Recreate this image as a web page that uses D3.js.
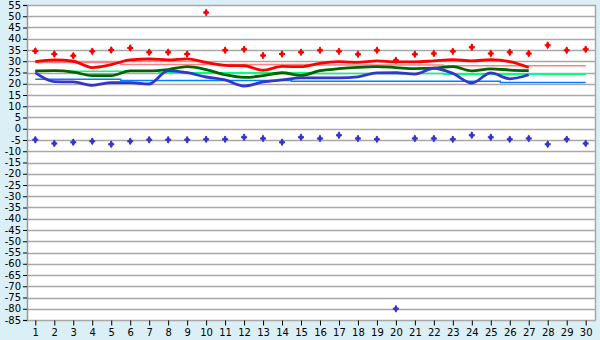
<!DOCTYPE html>
<html>
<head>
<meta charset="utf-8">
<script src="https://cdn.jsdelivr.net/npm/d3@7"></script>
<style>
  body { margin: 0; background: #daeff6; }
  svg { display: block; }
  text { font-family: "DejaVu Sans", Verdana, sans-serif; font-size: 10px; fill: #000; }
</style>
</head>
<body>
<svg width="600" height="340"></svg>
<script>
const days = d3.range(1, 31);
const yTicks = d3.range(-85, 56, 5);

// daily max / avg / min (days 1-27)
const maxTemp = [29.8, 30.6, 30.0, 27.2, 28.5, 30.6, 31.0, 30.6, 31.1, 29.5,
    28.2, 28.0, 26.0, 27.7, 27.6, 29.1, 29.8, 29.5, 30.2, 29.7,
    29.7, 30.2, 30.7, 30.2, 30.7, 29.8, 27.2];
const avgTemp = [25.7, 25.8, 25.2, 23.6, 23.6, 25.7, 25.7, 26.3, 27.6, 26.3,
    24.0, 22.8, 23.6, 24.9, 23.7, 25.8, 26.7, 27.3, 27.6, 27.2,
    26.7, 26.9, 27.6, 25.7, 26.6, 26.1, 25.8];
const minTemp = [24.9, 20.9, 20.8, 19.3, 20.5, 20.5, 19.9, 25.8, 24.9, 23.0,
    21.7, 19.0, 20.8, 21.7, 22.6, 22.6, 22.6, 23.1, 24.8, 24.9,
    24.3, 26.9, 24.6, 20.3, 24.8, 22.2, 24.0];

// normals (days 1-30)
const normHigh = [29.4, 29.4, 29.4, 29.4, 29.4, 28.6, 28.6, 28.6, 28.6, 28.6,
    28.6, 28.6, 28.6, 28.6, 28.6, 28.3, 28.3, 28.3, 28.3, 28.3,
    28.3, 28.3, 28.0, 28.0, 28.0, 28.0, 28.0, 28.0, 28.0, 28.0];
const normAvg = [25.6, 25.6, 25.6, 25.6, 25.6, 25.6, 25.6, 24.9, 24.9, 24.9,
    24.9, 24.9, 24.9, 24.9, 24.9, 24.6, 24.6, 24.6, 24.6, 24.6,
    24.6, 24.6, 24.2, 24.2, 24.2, 24.2, 24.2, 24.2, 24.2, 24.2];
const normLow = [22.0, 22.0, 22.0, 22.0, 22.0, 21.5, 21.5, 21.5, 21.5, 21.5,
    21.5, 21.5, 21.5, 21.5, 21.1, 21.1, 21.1, 21.1, 21.1, 21.1,
    21.1, 21.1, 21.1, 21.1, 21.1, 20.6, 20.6, 20.6, 20.6, 20.6];

// record highs / lows (days 1-30)
const recHigh = [34.6, 33.2, 32.5, 34.4, 35.0, 35.9, 34.0, 34.0, 33.2, 51.7,
    34.9, 35.3, 32.6, 33.2, 34.0, 34.9, 34.4, 33.1, 34.9, 30.4,
    33.1, 33.5, 34.4, 36.2, 33.5, 34.0, 33.5, 37.1, 34.9, 35.3];
const recLow = [-4.9, -6.5, -6.0, -5.6, -6.9, -5.6, -4.9, -4.9, -4.9, -4.7,
    -4.7, -3.8, -4.3, -6.0, -3.8, -4.3, -2.9, -4.3, -4.7, -80,
    -4.3, -4.3, -4.7, -2.9, -3.8, -4.7, -4.3, -6.9, -4.7, -6.5];

const svg = d3.select("svg");
const plot = { left: 27, right: 596, top: 5, bottom: 320 };

const x = d3.scaleLinear().domain([1, 30]).range([35.3, 585.7]);
const y = d3.scaleLinear().domain([-85, 55]).range([plot.bottom, plot.top]);

svg.append("rect")
    .attr("x", plot.left)
    .attr("y", plot.top)
    .attr("width", plot.right - plot.left)
    .attr("height", plot.bottom - plot.top)
    .attr("fill", "#fff");

// grid
svg.append("g")
    .selectAll("line")
    .data(yTicks)
    .enter().append("line")
    .attr("x1", plot.left)
    .attr("x2", plot.right)
    .attr("y1", d => Math.round(y(d)) + 0.5)
    .attr("y2", d => Math.round(y(d)) + 0.5)
    .attr("stroke", "#a8a8a8")
    .attr("stroke-width", 1.4);

svg.append("line")
    .attr("x1", plot.right - 0.5).attr("x2", plot.right - 0.5)
    .attr("y1", plot.top).attr("y2", plot.bottom)
    .attr("stroke", "#a8a8a8")
    .attr("stroke-width", 1.5);

// axes
const yAxis = svg.append("g")
    .attr("transform", `translate(${plot.left},0)`)
    .call(d3.axisLeft(y).tickValues(yTicks).tickSize(4).tickPadding(2)
        .tickFormat(d => String(d)));
yAxis.select(".domain").attr("stroke", "#999").attr("stroke-width", 1.5);
yAxis.selectAll(".tick line").attr("stroke", "#000");

const xAxis = svg.append("g")
    .attr("transform", `translate(0,${plot.bottom + 0.5})`)
    .call(d3.axisBottom(x).tickValues(days).tickSize(5).tickPadding(3)
        .tickFormat(d3.format("d")));
xAxis.select(".domain").remove();
xAxis.selectAll(".tick line").attr("stroke", "#000");
svg.selectAll(".tick text").attr("font-family", null).attr("font-size", null);

// normals
const stepLine = d3.line()
    .x((d, i) => x(days[i]))
    .y(d => y(d))
    .curve(d3.curveStep);

[[normHigh, "#ff8080"], [normAvg, "#00ff80"], [normLow, "#0080ff"]].forEach(([data, color]) => {
    svg.append("path")
        .datum(data)
        .attr("fill", "none")
        .attr("stroke", color)
        .attr("stroke-width", 1.5)
        .attr("d", stepLine);
});

// daily lines
const line = d3.line()
    .x((d, i) => x(days[i]))
    .y(d => y(d))
    .curve(d3.curveMonotoneX);

[[maxTemp, "#ff0000"], [avgTemp, "#006400"], [minTemp, "#3535cc"]].forEach(([data, color]) => {
    svg.append("path")
        .datum(data)
        .attr("fill", "none")
        .attr("stroke", color)
        .attr("stroke-width", 2.8)
        .attr("d", line);
});

// records
const cross = d3.symbol().type(d3.symbolCross).size(20);
const diamond = d3.symbol().type(d3.symbolDiamond).size(18);

[[recHigh, "#ff0000"], [recLow, "#3535cc"]].forEach(([data, color]) => {
    const g = svg.append("g")
        .selectAll("g")
        .data(data)
        .enter().append("g")
        .attr("transform", (d, i) => `translate(${x(days[i])},${y(d)})`)
        .attr("fill", color);
    g.append("path").attr("d", cross);
    g.append("path").attr("d", diamond);
});
</script>
</body>
</html>
